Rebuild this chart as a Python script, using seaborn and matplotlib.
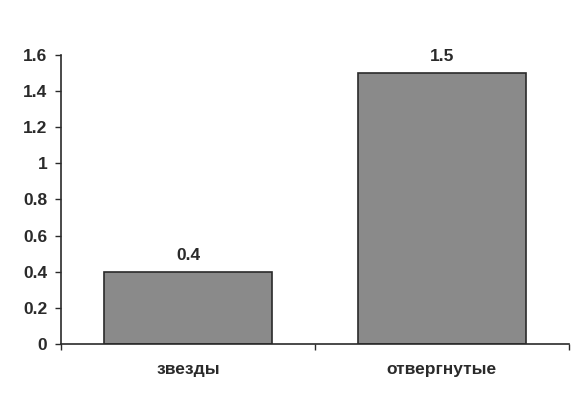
import matplotlib
matplotlib.use("Agg")
import matplotlib.pyplot as plt
import seaborn as sns
import pandas as pd

categories = ["звезды", "отвергнутые"]
values = [0.4, 1.5]
value_labels = ["0.4", "1.5"]
y_ticks = [0, 0.2, 0.4, 0.6, 0.8, 1.0, 1.2, 1.4, 1.6]
y_tick_labels = ["0", "0.2", "0.4", "0.6", "0.8", "1", "1.2", "1.4", "1.6"]

df = pd.DataFrame({"cat": categories, "val": values})

sns.set_style("white")
plt.rcParams["font.family"] = ["Liberation Sans", "DejaVu Sans"]
plt.rcParams["font.weight"] = "bold"

fig = plt.figure(figsize=(5.87, 4.05), dpi=100)
ax = fig.add_axes([0.104, 0.151, 0.865, 0.713])

sns.barplot(data=df, x="cat", y="val", color="#8a8a8a", saturation=1,
            width=0.66, edgecolor="#2a2a2a", linewidth=1.2, ax=ax)

for i, (v, lab) in enumerate(zip(values, value_labels)):
    ax.annotate(lab, (i, v), xytext=(0, 6.5), textcoords="offset points",
                ha="center", va="bottom", fontsize=12.5, fontweight="bold",
                color="#2a2a2a")

ax.set_xlim(-0.5, 1.5)
ax.set_ylim(0, 1.6)
ax.set_yticks(y_ticks)
ax.set_yticklabels(y_tick_labels)
ax.set_xlabel("")
ax.set_ylabel("")

ax.set_xticks([-0.5, 0.5, 1.5], minor=True)
ax.tick_params(axis="x", which="major", length=0, pad=13, labelsize=12.5,
               labelcolor="#2a2a2a")
ax.tick_params(axis="x", which="minor", length=4, width=1, direction="out",
               color="#2a2a2a", bottom=True)
ax.tick_params(axis="y", length=4, width=1, direction="out", pad=6,
               labelsize=12.5, labelcolor="#2a2a2a", color="#2a2a2a", left=True)
for lab in ax.get_xticklabels() + ax.get_yticklabels():
    lab.set_fontweight("bold")

sns.despine(ax=ax, top=True, right=True)
for s in ["left", "bottom"]:
    ax.spines[s].set_color("#2a2a2a")
    ax.spines[s].set_linewidth(1.2)

fig.savefig("out.png", dpi=100)
